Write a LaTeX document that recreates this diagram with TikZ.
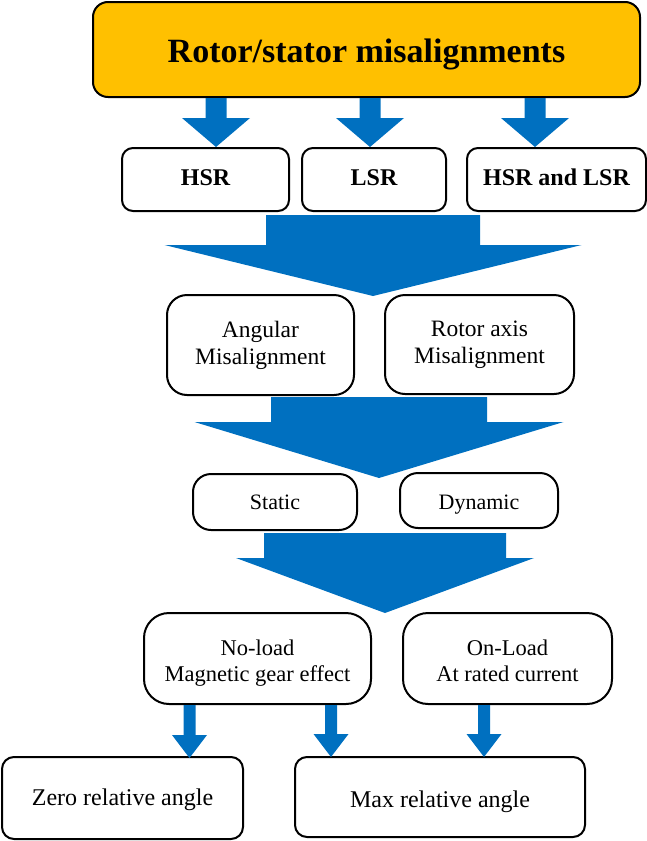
\documentclass[tikz,border=0pt]{standalone}
\usepackage{fontspec}
\setmainfont{Liberation Serif}
\usetikzlibrary{calc}
\definecolor{gold}{HTML}{FFC000}
\definecolor{flowblue}{HTML}{0070C0}
% Block arrow: #1 tip, #2 point giving the top of the shaft,
% #3 half shaft width, #4 half head width, #5 head length
\newcommand{\blockarrow}[5]{%
  \fill[flowblue] let \p1=(#1), \p2=(#2) in
    (\x1-#3,\y2) -- (\x1+#3,\y2) -- (\x1+#3,\y1+#5) -- (\x1+#4,\y1+#5)
    -- (\x1,\y1) -- (\x1-#4,\y1+#5) -- (\x1-#3,\y1+#5) -- cycle;}
\begin{document}
\begin{tikzpicture}[x=1pt,y=-1pt,
  box/.style={draw=black,line width=2pt,fill=white,inner sep=0pt,align=center},
  plain/.style={box,font=\fontsize{23.5}{27}\selectfont},
  headfont/.style={font=\bfseries\fontsize{24}{28}\selectfont}]
\useasboundingbox (0,0) rectangle (647,841);

% title
\node[box,fill=gold,rounded corners=15pt,minimum width=547,minimum height=95,
  text height=25pt,text depth=0pt,
  font=\bfseries\fontsize{34}{40}\selectfont] (top) at (366.5,49.5) {Rotor/stator misalignments};

% rotor choice
\node[box,headfont,rounded corners=11pt,minimum width=167,minimum height=63] (hsr) at (205.5,179.5) {\strut HSR};
\node[box,headfont,rounded corners=11pt,minimum width=144,minimum height=63] (lsr) at (374,179.5) {\strut LSR};
\node[box,headfont,rounded corners=11pt,minimum width=179,minimum height=63] (both) at (556.5,179.5) {\strut HSR and LSR};

% misalignment type
\node[plain,rounded corners=20pt,minimum width=187,minimum height=100] (ang) at (260.5,345) {Angular\\Misalignment};
\node[plain,rounded corners=20pt,minimum width=189,minimum height=99] (rax) at (479.5,344.5) {Rotor axis\\Misalignment};

% time behaviour
\node[plain,rounded corners=18pt,minimum width=164,minimum height=56,text height=17pt,text depth=3pt,
  font=\fontsize{22}{26}\selectfont] (stat) at (275,502) {Static};
\node[plain,rounded corners=18pt,minimum width=158,minimum height=55,text height=19pt,text depth=2pt,
  font=\fontsize{22}{26}\selectfont] (dyn) at (479,500.5) {Dynamic};

% load condition
\node[plain,rounded corners=25pt,minimum width=227,minimum height=91,text height=53pt,
  font=\fontsize{22.5}{26}\selectfont] (noload) at (257.5,658.5) {No-load\\Magnetic gear effect\strut};
\node[plain,rounded corners=25pt,minimum width=209,minimum height=91,text height=53pt,
  font=\fontsize{22.5}{26}\selectfont] (onload) at (507.5,658.5) {On-Load\\At rated current\strut};

% resulting angle
\node[plain,rounded corners=12pt,minimum width=241,minimum height=82,text height=20pt,text depth=6pt,
  font=\fontsize{24}{28}\selectfont] (zero) at (122.5,798) {Zero relative angle};
\node[plain,rounded corners=12pt,minimum width=290,minimum height=80,text height=22pt,text depth=2pt,
  font=\fontsize{24}{28}\selectfont] (max) at (440,797) {Max relative angle};

% arrow tips
\coordinate (t1) at ([xshift=10.5pt]hsr.north);
\coordinate (t2) at ([xshift=-4pt]lsr.north);
\coordinate (t3) at ([xshift=-21.5pt]both.north);
\coordinate (tA) at ($(ang.north east)!0.5!(rax.north west)+(3.5,2)$);
\coordinate (tB) at ($(stat.north east)!0.5!(dyn.north west)+(0.5,5.5)$);
\coordinate (tC) at ($(noload.north east)!0.5!(onload.north west)+(-2,1)$);
\coordinate (z1) at ([xshift=67pt,yshift=-2pt]zero.north);
\coordinate (m1) at ([xshift=-109pt,yshift=-1pt]max.north);
\coordinate (m2) at ([xshift=44pt,yshift=-1pt]max.north);

% arrows
\blockarrow{t1}{top.south}{10.5pt}{34pt}{29pt}
\blockarrow{t2}{top.south}{10.5pt}{34pt}{29pt}
\blockarrow{t3}{top.south}{10.5pt}{34pt}{29pt}
\blockarrow{tA}{[yshift=-3pt]hsr.south}{107pt}{208.5pt}{51pt}
\blockarrow{tB}{[yshift=-1pt]ang.south}{108pt}{184.5pt}{56pt}
\blockarrow{tC}{[yshift=-2pt]stat.south}{121pt}{149pt}{55pt}
\blockarrow{z1}{noload.south}{6pt}{17.5pt}{23pt}
\blockarrow{m1}{noload.south}{6pt}{17.5pt}{23pt}
\blockarrow{m2}{onload.south}{6pt}{17.5pt}{23pt}
\end{tikzpicture}
\end{document}
